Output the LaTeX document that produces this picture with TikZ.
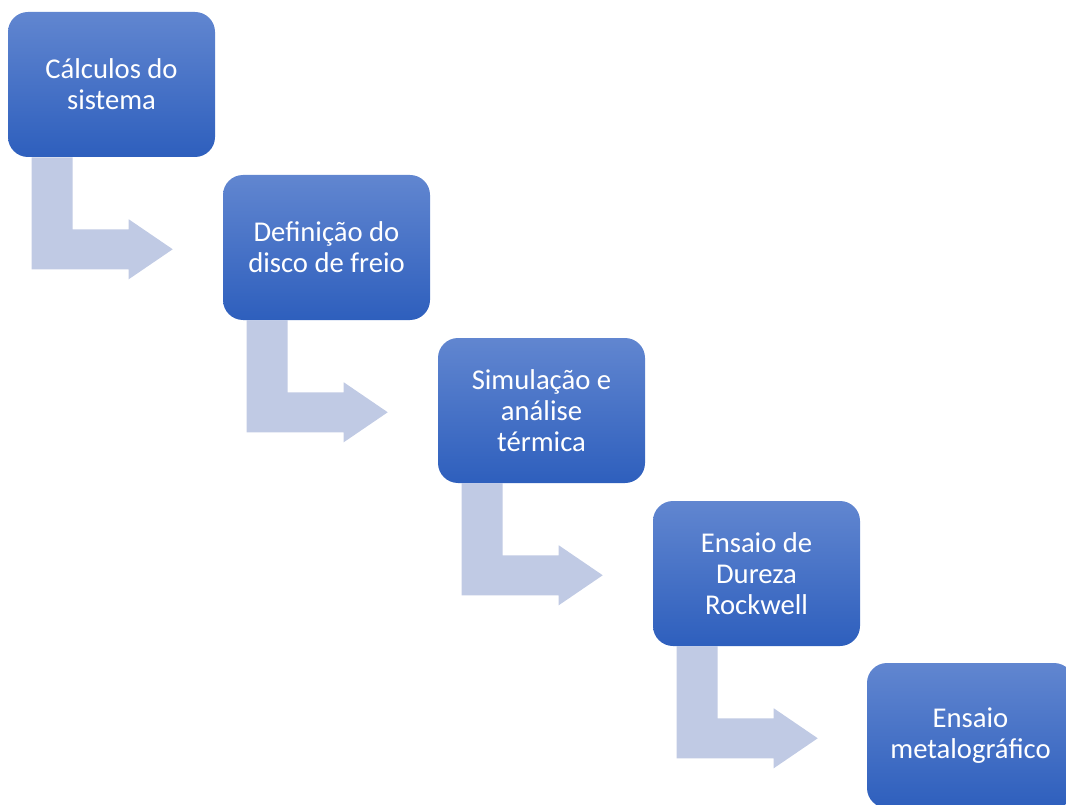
\documentclass[tikz,border=0pt]{standalone}
\usepackage{fontspec}
\setmainfont{Carlito}
\usetikzlibrary{calc,backgrounds}
\definecolor{boxtop}{HTML}{6186D0}
\definecolor{boxbot}{HTML}{2E5FBD}
\definecolor{arrowc}{HTML}{C0CAE4}
\tikzset{
  stepbox/.style={rounded corners=15pt, top color=boxtop, bottom color=boxbot, draw=none,
    minimum width=155.25pt, minimum height=108.75pt, inner sep=0pt, text=white,
    align=center, font=\fontsize{21.5}{23.3}\selectfont},
  bentarrow/.style={fill=arrowc, draw=none}
}
\newcommand{\bentarr}[1]{%
  \fill[bentarrow] ($(#1.south west)+(24,0)$) -- ++(41,0) -- ++(0,72) -- ++(56,0) -- ++(0,-10)
    -- ++(44,30) -- ++(-44,30) -- ++(0,-10) -- ++(-97,0) -- cycle;}
\begin{document}
\begin{tikzpicture}[x=0.75pt,y=-0.75pt]
\useasboundingbox (0,0) rectangle (1066,805);
\clip (0,0) rectangle (1066,805);
\path (111.5,84.5) node[stepbox] (b1) {Cálculos do\\sistema};
\path (326.5,247.5) node[stepbox] (b2) {Definição do\\disco de freio};
\path (541.5,410.5) node[stepbox] (b3) {Simulação e\\análise\\térmica};
\path (756.5,573.5) node[stepbox] (b4) {Ensaio de\\Dureza\\Rockwell};
\path (970.5,735.5) node[stepbox] (b5) {Ensaio\\metalográfico};
\begin{scope}[on background layer]
\bentarr{b1}
\bentarr{b2}
\bentarr{b3}
\bentarr{b4}
\end{scope}
\end{tikzpicture}
\end{document}
